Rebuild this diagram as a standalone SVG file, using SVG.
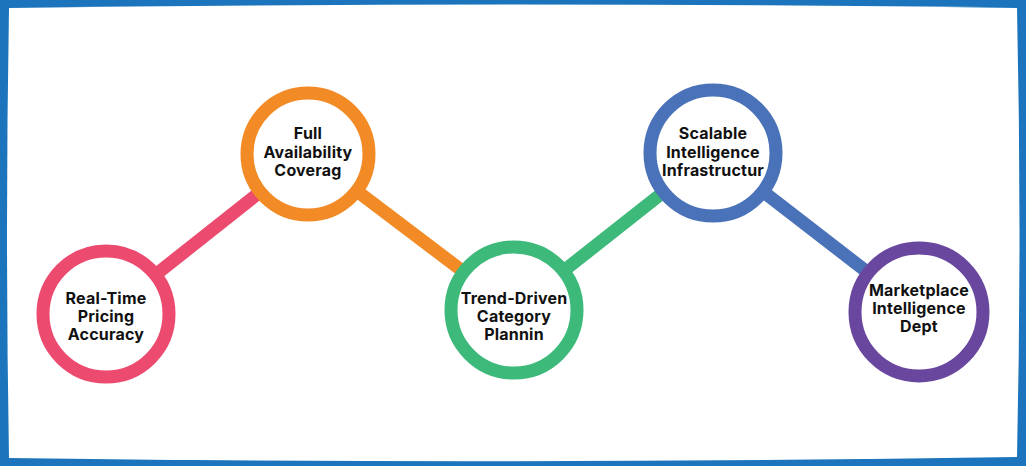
<svg xmlns="http://www.w3.org/2000/svg" width="1026" height="466" viewBox="0 0 1026 466">
<style>
.lbl{font-family:Inter,"Open Sans","Liberation Sans",sans-serif;font-weight:700;font-size:16px;letter-spacing:0.2px;fill:#111;text-anchor:middle}
.ring{fill:#fff;stroke-width:13}
.conn{stroke-width:13;fill:none}
</style>
<g id="frame">
<rect x="0" y="0" width="1026" height="466" fill="#1C75BC"/>
<path d="M9,8 Q512,1 1017,8 Q1022,232 1017,457 Q512,465 9,458 Q5,232 9,8 Z" fill="#fff"/>
</g>
<g id="connectors">
<line class="conn" x1="106" y1="314" x2="308" y2="154" stroke="#EC4A6E"/>
<line class="conn" x1="308" y1="154" x2="514" y2="310" stroke="#F28A26"/>
<line class="conn" x1="514" y1="310" x2="713" y2="153" stroke="#3DB97A"/>
<line class="conn" x1="713" y1="153" x2="919" y2="312" stroke="#4A72B8"/>
</g>
<g id="node-realtime">
<circle class="ring" cx="106" cy="314" r="63" stroke="#EC4A6E"/>
<text class="lbl" x="106" y="304">Real-Time</text>
<text class="lbl" x="106" y="322">Pricing</text>
<text class="lbl" x="106" y="340">Accuracy</text>
</g>
<g id="node-availability">
<circle class="ring" cx="308" cy="154" r="61" stroke="#F28A26"/>
<text class="lbl" x="308" y="139">Full</text>
<text class="lbl" x="308" y="158">Availability</text>
<text class="lbl" x="308" y="176">Coverag</text>
</g>
<g id="node-trend">
<circle class="ring" cx="514" cy="310" r="63" stroke="#3DB97A"/>
<text class="lbl" x="514" y="304">Trend-Driven</text>
<text class="lbl" x="514" y="322">Category</text>
<text class="lbl" x="514" y="340">Plannin</text>
</g>
<g id="node-scalable">
<circle class="ring" cx="713" cy="153" r="63" stroke="#4A72B8"/>
<text class="lbl" x="713" y="139">Scalable</text>
<text class="lbl" x="713" y="158">Intelligence</text>
<text class="lbl" x="713" y="176">Infrastructur</text>
</g>
<g id="node-marketplace">
<circle class="ring" cx="919" cy="312" r="64" stroke="#6A479E"/>
<text class="lbl" x="919" y="296">Marketplace</text>
<text class="lbl" x="919" y="314">Intelligence</text>
<text class="lbl" x="919" y="332">Dept</text>
</g>
</svg>
